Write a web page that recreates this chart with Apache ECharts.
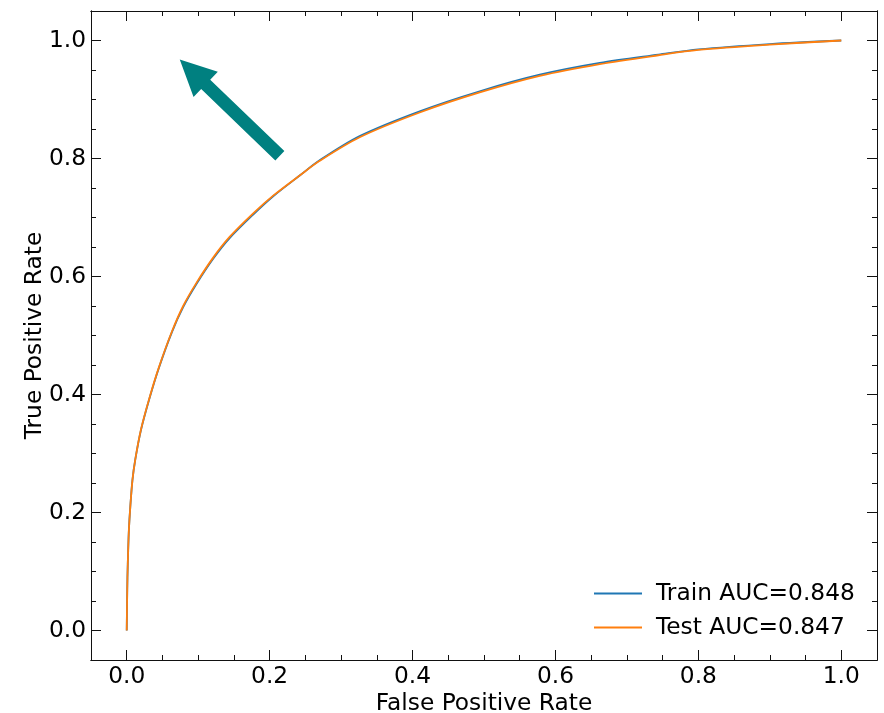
<!DOCTYPE html>
<html>
<head>
<meta charset="utf-8">
<script src="https://cdn.jsdelivr.net/npm/echarts@6/dist/echarts.min.js"></script>
<style>html,body{margin:0;padding:0;background:#fff}#c{width:884px;height:713px}</style>
</head>
<body>
<div id="c"></div>
<script>
// ---- data ----
const fpr = [0, 0.0005, 0.001, 0.002, 0.003, 0.005, 0.008, 0.012, 0.02, 0.032, 0.045, 0.063, 0.079, 0.098, 0.121, 0.144, 0.177, 0.205, 0.243, 0.27, 0.326, 0.41, 0.494, 0.578, 0.662, 0.744, 0.8, 0.9, 1.0];
const tprTrain = [0, 0.05, 0.09, 0.135, 0.17, 0.21, 0.255, 0.29, 0.34, 0.394, 0.445, 0.505, 0.548, 0.588, 0.630, 0.665, 0.705, 0.736, 0.772, 0.797, 0.838, 0.880, 0.914, 0.942, 0.962, 0.976, 0.985, 0.994, 1.0];
const tprTest = [0, 0.05, 0.09, 0.135, 0.17, 0.21, 0.255, 0.29, 0.341, 0.395, 0.446, 0.506, 0.550, 0.590, 0.632, 0.667, 0.707, 0.737, 0.772, 0.796, 0.836, 0.878, 0.912, 0.940, 0.960, 0.975, 0.984, 0.993, 1.0];
const seriesNames = ['Train AUC=0.848', 'Test AUC=0.847'];
const majorTicks = [0, 0.2, 0.4, 0.6, 0.8, 1.0];
const minorTicks = [0.05, 0.1, 0.15, 0.25, 0.3, 0.35, 0.45, 0.5, 0.55, 0.65, 0.7, 0.75, 0.85, 0.9, 0.95];
const arrowTail = [0.2143, 0.8046];
const arrowTip = [0.0742, 0.9679];

const FONT = 'DejaVu Sans';
const FS = 23.3;
const INK = '#111';
const chart = echarts.init(document.getElementById('c'));

function mkAxis(pos, custom, len, labels, extra) {
  return Object.assign({
    type: 'value', position: pos, min: -0.05, max: 1.05,
    axisLine: { show: true, onZero: false, lineStyle: { color: INK, width: 1 } },
    axisTick: { show: true, inside: true, length: len, customValues: custom, lineStyle: { color: INK, width: 1 } },
    axisLabel: labels ? { show: true, customValues: majorTicks, fontFamily: FONT, fontSize: FS, color: '#000', margin: 5,
      formatter: v => v.toFixed(1) } : { show: false },
    splitLine: { show: false }
  }, extra || {});
}

const lineIcon = 'path://M0,0H48V2H0Z';
const option = {
  animation: false,
  backgroundColor: '#fff',
  grid: { left: 91, top: 11, right: 7, bottom: 53, containLabel: false, outerBoundsMode: 'none' },
  xAxis: [
    mkAxis('bottom', majorTicks, 10, true, { name: 'False Positive Rate', nameLocation: 'middle', nameGap: 32,
      nameMoveOverlap: false, nameTextStyle: { fontFamily: FONT, fontSize: FS, color: '#000' } }),
    mkAxis('bottom', minorTicks, 5, false),
    mkAxis('top', majorTicks, 10, false),
    mkAxis('top', minorTicks, 5, false)
  ],
  yAxis: [
    mkAxis('left', majorTicks, 10, true, { name: 'True Positive Rate', nameLocation: 'middle', nameGap: 45,
      nameMoveOverlap: false, nameTextStyle: { fontFamily: FONT, fontSize: FS, color: '#000' } }),
    mkAxis('left', minorTicks, 5, false),
    mkAxis('right', majorTicks, 10, false),
    mkAxis('right', minorTicks, 5, false)
  ],
  legend: {
    orient: 'vertical', left: 589, top: 577, itemWidth: 48, itemHeight: 2, itemGap: 11,
    data: [{ name: seriesNames[0], icon: lineIcon }, { name: seriesNames[1], icon: lineIcon }],
    textStyle: { fontFamily: FONT, fontSize: FS, color: '#000', padding: [0, 0, 0, 9] }
  },
  series: [
    { name: seriesNames[0], type: 'line', symbol: 'none', showSymbol: false, smooth: 0.3,
      lineStyle: { color: '#1f77b4', width: 1.8 }, itemStyle: { color: '#1f77b4' },
      data: fpr.map((x, i) => [x, tprTrain[i]]) },
    { name: seriesNames[1], type: 'line', symbol: 'none', showSymbol: false, smooth: 0.3,
      lineStyle: { color: '#ff7f0e', width: 1.8 }, itemStyle: { color: '#ff7f0e' },
      data: fpr.map((x, i) => [x, tprTest[i]]) }
  ]
};
chart.setOption(option);

// arrow annotation, placed from data coordinates
const t0 = chart.convertToPixel({ xAxisIndex: 0, yAxisIndex: 0 }, arrowTail);
const t1 = chart.convertToPixel({ xAxisIndex: 0, yAxisIndex: 0 }, arrowTip);
const dx = t1[0] - t0[0], dy = t1[1] - t0[1];
const L = Math.hypot(dx, dy);
const ux = dx / L, uy = dy / L, px = -uy, py = ux;
const hw = 6.5, hh = 17.5, hl = 36;
const bx = t1[0] - ux * hl, by = t1[1] - uy * hl;
const pts = [
  [t0[0] + px * hw, t0[1] + py * hw],
  [bx + px * hw, by + py * hw],
  [bx + px * hh, by + py * hh],
  [t1[0], t1[1]],
  [bx - px * hh, by - py * hh],
  [bx - px * hw, by - py * hw],
  [t0[0] - px * hw, t0[1] - py * hw]
];
chart.setOption({ graphic: [{ type: 'polygon', shape: { points: pts }, style: { fill: '#008080' }, z: 10 }] });
</script>
</body>
</html>
